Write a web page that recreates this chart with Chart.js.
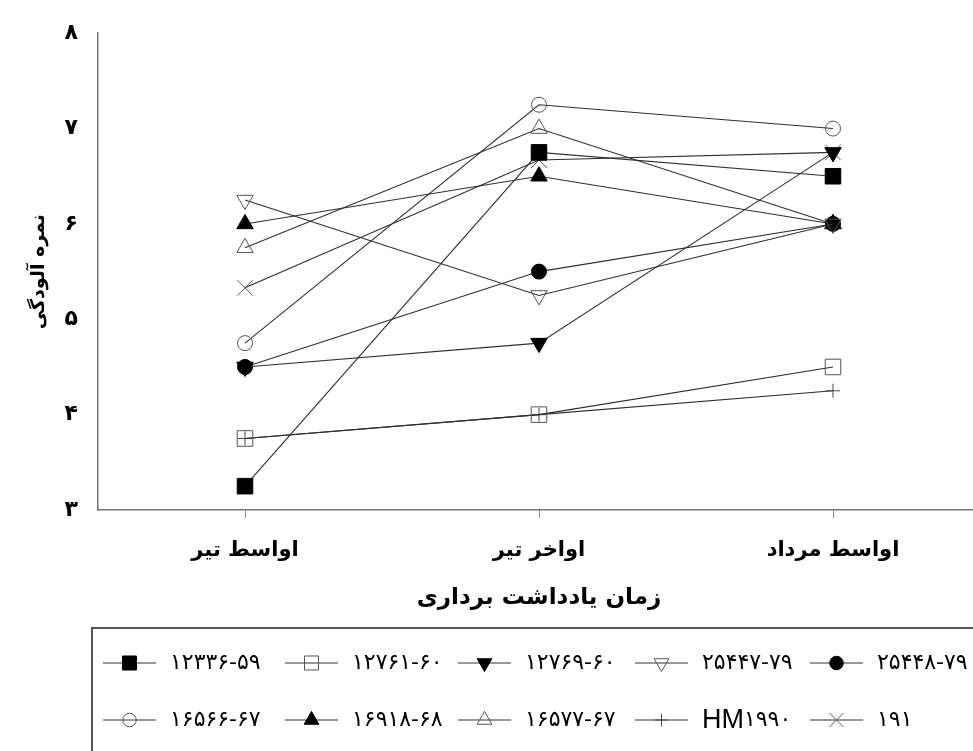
<!DOCTYPE html>
<html>
<head>
<meta charset="utf-8">
<script src="https://cdn.jsdelivr.net/npm/chart.js"></script>
<style>
  html, body { margin: 0; padding: 0; background: #fff; overflow: hidden; }
  #wrap { width: 992px; height: 751px; }
</style>
</head>
<body>
<div id="wrap"><canvas id="chart" width="992" height="751"></canvas></div>
<script>
// time of recording (x categories)
const categories = ["اواسط تیر", "اواخر تیر", "اواسط مرداد"];
const yTickLabels = ["۳", "۴", "۵", "۶", "۷", "۸"];

// pollution score per line
const names = [
  "۱۲۳۳۶-۵۹", "۱۲۷۶۱-۶۰", "۱۲۷۶۹-۶۰", "۲۵۴۴۷-۷۹", "۲۵۴۴۸-۷۹",
  "۱۶۵۶۶-۶۷", "۱۶۹۱۸-۶۸", "۱۶۵۷۷-۶۷", "HM۱۹۹۰", "۱۹۱"
];
const l12336_59 = [3.25, 6.75, 6.5];
const l12761_60 = [3.75, 4.0, 4.5];
const l12769_60 = [4.5, 4.75, 6.75];
const l25447_79 = [6.25, 5.25, 6.0];
const l25448_79 = [4.5, 5.5, 6.0];
const l16566_67 = [4.75, 7.25, 7.0];
const l16918_68 = [6.0, 6.5, 6.0];
const l16577_67 = [5.75, 7.0, 6.0];
const hm1990 = [3.75, 4.0, 4.25];
const l191 = [5.33, 6.67, 6.75];
const values = [l12336_59, l12761_60, l12769_60, l25447_79, l25448_79,
                l16566_67, l16918_68, l16577_67, hm1990, l191];

// marker look for each series
const markers = [
  { style: "rect", rot: 0, r: 11, fill: "#000", stroke: "#000" },
  { style: "rect", rot: 0, r: 11, fill: "rgba(0,0,0,0)", stroke: "#555" },
  { style: "triangle", rot: 180, r: 9.5, fill: "#000", stroke: "#000" },
  { style: "triangle", rot: 180, r: 9.5, fill: "rgba(0,0,0,0)", stroke: "#555" },
  { style: "circle", rot: 0, r: 7.5, fill: "#000", stroke: "#000" },
  { style: "circle", rot: 0, r: 7.5, fill: "rgba(0,0,0,0)", stroke: "#555" },
  { style: "triangle", rot: 0, r: 9.5, fill: "#000", stroke: "#000" },
  { style: "triangle", rot: 0, r: 9.5, fill: "rgba(0,0,0,0)", stroke: "#555" },
  { style: "cross", rot: 0, r: 7, fill: "rgba(0,0,0,0)", stroke: "#444" },
  { style: "crossRot", rot: 0, r: 11, fill: "rgba(0,0,0,0)", stroke: "#555" }
];

const datasets = values.map((v, i) => ({
  label: names[i],
  data: v,
  borderColor: "#2e2e2e",
  borderWidth: 1.1,
  tension: 0,
  pointStyle: markers[i].style,
  rotation: markers[i].rot,
  pointRadius: markers[i].r,
  pointBackgroundColor: markers[i].fill,
  pointBorderColor: markers[i].stroke,
  pointBorderWidth: 1
}));

const persianFont = "'DejaVu Sans', sans-serif";
const legendColX = [103, 285, 458, 635, 810];
const legendRowY = [663, 720];

const gridLegend = {
  id: "gridLegend",
  afterDraw(chart) {
    const ctx = chart.ctx;
    ctx.save();
    ctx.strokeStyle = "#555";
    ctx.lineWidth = 2;
    ctx.strokeRect(92, 628, 920, 140);
    chart.data.datasets.forEach((ds, i) => {
      const x0 = legendColX[i % 5];
      const y = legendRowY[Math.floor(i / 5)];
      ctx.strokeStyle = "#777";
      ctx.lineWidth = 1.5;
      ctx.beginPath();
      ctx.moveTo(x0, y);
      ctx.lineTo(x0 + 53, y);
      ctx.stroke();
      ctx.fillStyle = ds.pointBackgroundColor;
      ctx.strokeStyle = ds.pointBorderColor;
      ctx.lineWidth = 1;
      Chart.helpers.drawPoint(ctx, {
        pointStyle: ds.pointStyle, rotation: ds.rotation,
        radius: ds.pointRadius * 0.9, borderWidth: 1
      }, x0 + 26.5, y);
      ctx.fillStyle = "#000";
      ctx.textBaseline = "middle";
      ctx.textAlign = "left";
      let tx = x0 + 67;
      let label = ds.label;
      if (label.startsWith("HM")) {
        ctx.font = "27px 'Liberation Sans Narrow', 'Liberation Sans', sans-serif";
        ctx.fillText("HM", tx, y + 1);
        tx += ctx.measureText("HM").width;
        label = label.slice(2);
      }
      ctx.font = "22px " + persianFont;
      ctx.fillText(label, tx, y);
    });
    ctx.restore();
  }
};

new Chart(document.getElementById("chart"), {
  type: "line",
  data: { labels: categories, datasets },
  plugins: [gridLegend],
  options: {
    responsive: false,
    animation: false,
    events: [],
    layout: { padding: { top: 29, right: 0, left: 0, bottom: 131 } },
    plugins: { legend: { display: false }, tooltip: { enabled: false } },
    scales: {
      x: {
        offset: true,
        grid: { display: true, drawOnChartArea: false, offset: false, tickLength: 8, color: "#888" },
        border: { display: true, color: "#777", width: 1.5 },
        ticks: { color: "#000", padding: 20, font: { family: persianFont, size: 21, weight: "bold" } },
        title: {
          display: true, text: "زمان یادداشت برداری", color: "#000",
          padding: { top: 0, bottom: 8 },
          font: { family: persianFont, size: 23, weight: "bold" }
        },
        afterFit(scale) { scale.height = 110; }
      },
      y: {
        min: 3, max: 8,
        grid: { display: false, drawTicks: false },
        border: { display: true, color: "#777", width: 1.5 },
        ticks: {
          stepSize: 1, color: "#000", padding: 20,
          font: { family: persianFont, size: 22, weight: "bold" },
          callback: (v) => yTickLabels[v - 3]
        },
        title: {
          display: true, text: "نمره آلودگی", color: "#000",
          padding: { top: 28, bottom: 0 },
          font: { family: persianFont, size: 19, weight: "bold" }
        },
        afterFit(scale) { scale.width = 98; }
      }
    }
  }
});
</script>
</body>
</html>
